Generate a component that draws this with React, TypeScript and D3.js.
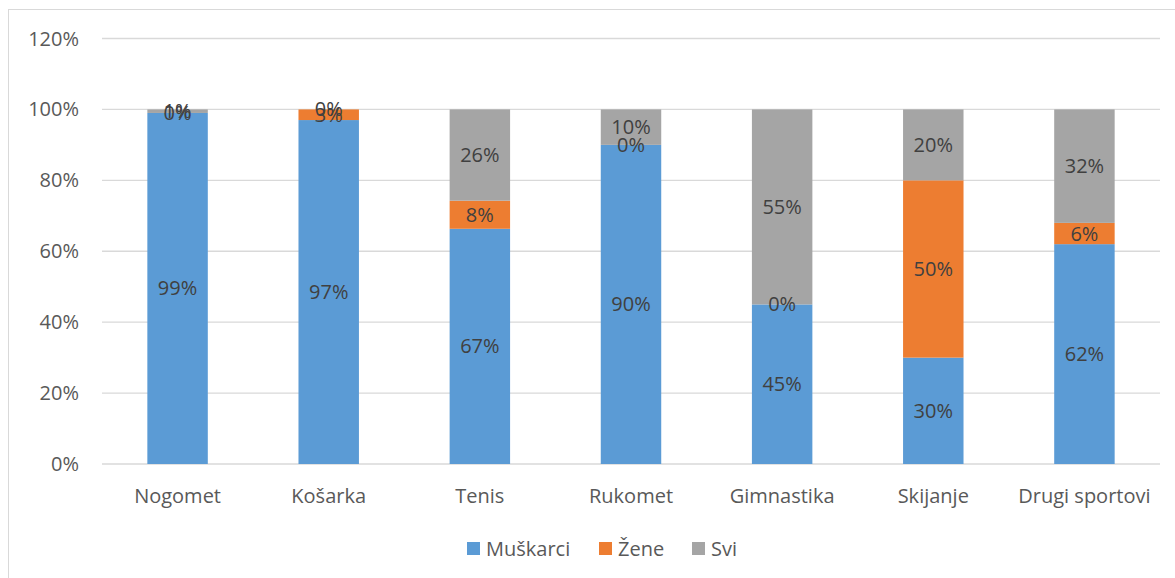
import React from 'react';
import * as d3 from 'd3';

const categories = ['Nogomet', 'Košarka', 'Tenis', 'Rukomet', 'Gimnastika', 'Skijanje', 'Drugi sportovi'];
const muskarci = [99, 97, 67, 90, 45, 30, 62];
const zene = [0, 3, 8, 0, 0, 50, 6];
const svi = [1, 0, 26, 10, 55, 20, 32];
const yTicks = [0, 20, 40, 60, 80, 100, 120];

const seriesNames = ['Muškarci', 'Žene', 'Svi'];
const seriesColors = ['#5b9bd5', '#ed7d31', '#a5a5a5'];

const width = 1175;
const height = 578;
const margin = { top: 38.5, right: 15, bottom: 114, left: 102 };
const font = '"Open Sans", "Liberation Sans", sans-serif';
const fs = 20;

export default function App() {
  const rows = categories.map((c, i) => ({ cat: c, Muškarci: muskarci[i], Žene: zene[i], Svi: svi[i] }));
  // 100% stacked: each column is scaled to its own total
  const stacked = d3.stack<any>().keys(seriesNames).offset(d3.stackOffsetExpand)(rows);

  const x = d3.scaleBand().domain(categories).range([margin.left, width - margin.right]).paddingInner(0.6).paddingOuter(0.3);
  const y = d3.scaleLinear().domain([0, 1.2]).range([height - margin.bottom, margin.top]);

  const legendItems = [
    { name: 'Muškarci', x: 467 },
    { name: 'Žene', x: 599 },
    { name: 'Svi', x: 692 },
  ];

  return (
    <svg width={width} height={height} style={{ position: 'absolute', left: 0, top: 0 }} fontFamily={font}>
      <rect x={8.5} y={9.5} width={width} height={height} fill="#fff" stroke="#d9d9d9" />
      {yTicks.map(t => (
        <g key={t}>
          <line x1={margin.left} x2={width - margin.right} y1={y(t / 100)} y2={y(t / 100)} stroke="#d9d9d9" strokeWidth={1.3} />
          <text x={79} y={y(t / 100)} dy="0.35em" textAnchor="end" fontSize={fs} fill="#595959">{t}%</text>
        </g>
      ))}
      {stacked.map((s, si) => (
        <g key={s.key}>
          {s.map((d, i) => (
            <rect key={i} x={x(categories[i])} width={x.bandwidth()} y={y(d[1])} height={Math.max(0, y(d[0]) - y(d[1]))} fill={seriesColors[si]} />
          ))}
        </g>
      ))}
      {stacked.map(s => (
        <g key={s.key + 'l'}>
          {s.map((d, i) => (
            <text key={i} x={(x(categories[i]) as number) + x.bandwidth() / 2} y={y((d[0] + d[1]) / 2)} dy="0.35em" textAnchor="middle" fontSize={fs} fill="#404040">
              {(d.data as any)[s.key]}%
            </text>
          ))}
        </g>
      ))}
      {categories.map(c => (
        <text key={c} x={(x(c) as number) + x.bandwidth() / 2} y={496} dy="0.35em" textAnchor="middle" fontSize={fs} fill="#595959">{c}</text>
      ))}
      {legendItems.map((l, i) => (
        <g key={l.name}>
          <rect x={l.x} y={542} width={13} height={13} fill={seriesColors[i]} />
          <text x={l.x + 19} y={548.5} dy="0.35em" fontSize={fs} fill="#595959">{l.name}</text>
        </g>
      ))}
    </svg>
  );
}
